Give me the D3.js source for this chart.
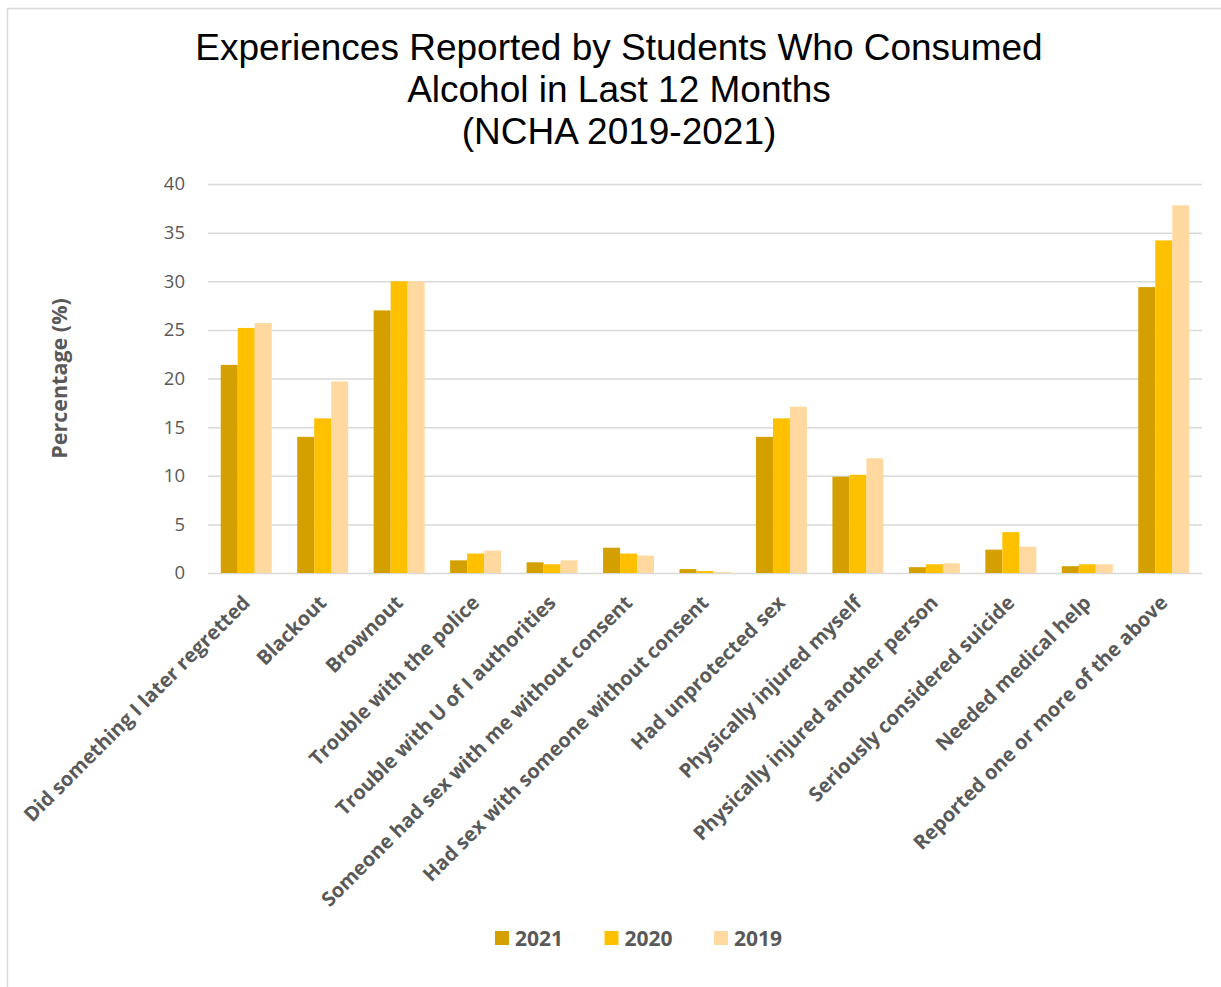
<!DOCTYPE html>
<html>
<head>
<meta charset="utf-8">
<script src="https://cdn.jsdelivr.net/npm/d3@7"></script>
<style>
  html, body { margin: 0; padding: 0; background: #fff; }
  svg { display: block; }
</style>
</head>
<body>
<svg id="chart" width="1221" height="987"></svg>
<script>
// Experiences reported (percent of students who drank in the last 12 months)
const categories = [
  "Did something I later regretted",
  "Blackout",
  "Brownout",
  "Trouble with the police",
  "Trouble with U of I authorities",
  "Someone had sex with me without consent",
  "Had sex with someone without consent",
  "Had unprotected sex",
  "Physically injured myself",
  "Physically injured another person",
  "Seriously considered suicide",
  "Needed medical help",
  "Reported one or more of the above"
];
const years = ["2021", "2020", "2019"];
const values2021 = [21.4, 14.0, 27.0, 1.3, 1.1, 2.6, 0.4, 14.0, 9.9, 0.6, 2.4, 0.7, 29.4];
const values2020 = [25.2, 15.9, 30.0, 2.0, 0.9, 2.0, 0.2, 15.9, 10.1, 0.9, 4.2, 0.9, 34.2];
const values2019 = [25.7, 19.7, 30.0, 2.3, 1.3, 1.8, 0.1, 17.1, 11.8, 1.0, 2.7, 0.9, 37.8];
const yTicks = [0, 5, 10, 15, 20, 25, 30, 35, 40];
const titleLines = [
  "Experiences Reported by Students Who Consumed",
  "Alcohol in Last 12 Months",
  "(NCHA 2019-2021)"
];
const yAxisTitle = "Percentage (%)";

const seriesValues = { "2021": values2021, "2020": values2020, "2019": values2019 };
const colors = { "2021": "#D4A000", "2020": "#FFC000", "2019": "#FFD99F" };

const svg = d3.select("#chart");
const labelFont = "'Open Sans', 'Noto Sans', sans-serif";
const textGray = "#595959";

// outer chart frame
svg.append("rect")
  .attr("x", 7.5).attr("y", 8.5)
  .attr("width", 1240).attr("height", 1000)
  .attr("fill", "none").attr("stroke", "#d9d9d9").attr("stroke-width", 1.5);

// plot area
const plot = { left: 208, right: 1202, top: 184, bottom: 573 };

const x0 = d3.scaleBand()
  .domain(categories)
  .range([plot.left, plot.right])
  .paddingInner(0.3333)
  .paddingOuter(0.16667);

const x1 = d3.scaleBand()
  .domain(years)
  .range([0, x0.bandwidth()]);

const y = d3.scaleLinear().domain([0, 40]).range([plot.bottom, plot.top]);

// gridlines
const grid = d3.axisLeft(y).tickValues(yTicks).tickSize(-(plot.right - plot.left)).tickFormat("");
const gridG = svg.append("g")
  .attr("transform", `translate(${plot.left},0)`)
  .call(grid);
gridG.select(".domain").remove();
gridG.selectAll(".tick line").attr("stroke", "#d9d9d9").attr("stroke-width", 1.5);

// y tick labels
const yAxis = d3.axisLeft(y).tickValues(yTicks).tickSize(0).tickPadding(23);
const yG = svg.append("g")
  .attr("transform", `translate(${plot.left},0)`)
  .call(yAxis);
yG.select(".domain").remove();
yG.selectAll(".tick text")
  .attr("fill", textGray)
  .style("font-family", labelFont)
  .style("font-size", "18.5px");

// bars
const rows = categories.map((c, i) => ({ cat: c, vals: years.map(yr => ({ yr, v: seriesValues[yr][i] })) }));
const groups = svg.append("g").selectAll("g")
  .data(rows)
  .join("g")
  .attr("transform", d => `translate(${x0(d.cat)},0)`);

groups.selectAll("rect")
  .data(d => d.vals)
  .join("rect")
  .attr("x", d => x1(d.yr))
  .attr("y", d => y(d.v))
  .attr("width", x1.bandwidth())
  .attr("height", d => y(0) - y(d.v))
  .attr("fill", d => colors[d.yr]);

// category labels, rotated
const xAxis = d3.axisBottom(x0).tickSize(0).tickPadding(0);
const xG = svg.append("g")
  .attr("transform", `translate(0,${plot.bottom})`)
  .call(xAxis);
xG.select(".domain").remove();
xG.selectAll(".tick text")
  .attr("text-anchor", "end")
  .attr("dy", 0)
  .attr("transform", "translate(5,31) rotate(-45)")
  .attr("fill", textGray)
  .style("font-family", labelFont)
  .style("font-weight", "bold")
  .style("font-size", "20px");

// y-axis title
svg.append("text")
  .attr("transform", `translate(67,${(plot.top + plot.bottom) / 2}) rotate(-90)`)
  .attr("text-anchor", "middle")
  .attr("fill", textGray)
  .style("font-family", labelFont)
  .style("font-weight", "bold")
  .style("font-size", "21.5px")
  .text(yAxisTitle);

// title
svg.append("text")
  .attr("text-anchor", "middle")
  .attr("fill", "#000")
  .style("font-family", "'Liberation Sans', Arial, sans-serif")
  .style("font-size", "37px")
  .selectAll("tspan")
  .data(titleLines)
  .join("tspan")
  .attr("x", 619)
  .attr("y", (d, i) => 60 + i * 42)
  .text(d => d);

// legend
const legendX = d3.scalePoint().domain(years).range([495, 714]);
const legend = svg.append("g").selectAll("g")
  .data(years)
  .join("g")
  .attr("transform", d => `translate(${legendX(d)},931)`);
legend.append("rect")
  .attr("width", 14).attr("height", 14)
  .attr("fill", d => colors[d]);
legend.append("text")
  .attr("x", 20).attr("y", 14.5)
  .attr("fill", textGray)
  .style("font-family", labelFont)
  .style("font-weight", "bold")
  .style("font-size", "21px")
  .text(d => d);
</script>
</body>
</html>
